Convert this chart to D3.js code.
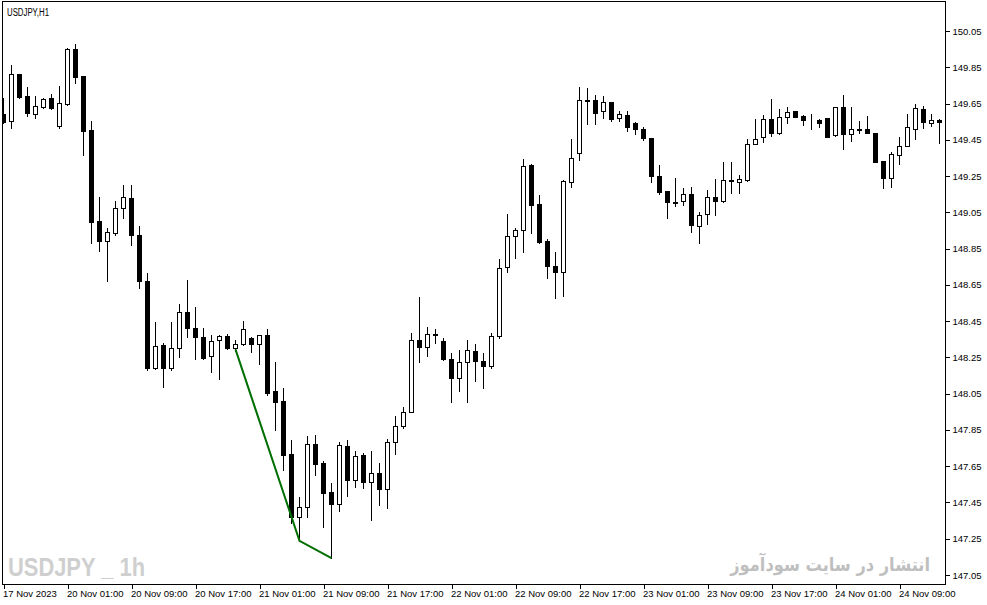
<!DOCTYPE html>
<html><head><meta charset="utf-8">
<script src="https://cdn.jsdelivr.net/npm/d3@7"></script>
<style>
html,body{margin:0;padding:0;background:#fff;}
svg{display:block;}
text{font-family:"Liberation Sans",Arial,sans-serif;}
</style></head><body>
<svg id="chart" width="987" height="605"></svg>
<script>
const opens = [149.592,149.553,149.813,149.692,149.592,149.631,149.681,149.526,149.647,149.950,
149.802,149.504,149.002,148.891,148.936,149.074,149.129,148.925,148.671,148.191,
148.319,148.191,148.302,148.500,148.412,148.363,148.258,148.346,148.368,148.302,
148.324,148.357,148.324,148.374,148.065,148.010,147.717,147.370,147.425,147.772,
147.668,147.507,147.442,147.761,147.574,147.712,147.563,147.613,147.524,147.783,
147.871,147.949,148.346,148.308,148.379,148.341,148.242,148.136,148.225,148.286,
148.230,148.203,148.368,148.748,148.919,148.952,149.311,149.096,148.891,148.754,
148.721,149.217,149.377,149.670,149.670,149.609,149.658,149.570,149.587,149.542,
149.509,149.460,149.250,149.168,149.107,149.113,149.151,148.974,149.041,149.135,
149.113,149.228,149.217,149.228,149.427,149.465,149.564,149.487,149.576,149.609,
149.581,149.556,149.559,149.570,149.476,149.631,149.482,149.509,149.509,149.487,
149.333,149.239,149.366,149.416,149.509,149.620,149.542,149.559];
const highs = [149.681,149.862,149.813,149.741,149.692,149.681,149.703,149.747,149.956,149.978,
149.802,149.553,149.135,148.963,149.113,149.201,149.201,148.974,148.716,148.445,
148.330,148.445,148.544,148.677,148.528,148.412,148.374,148.374,148.379,148.346,
148.451,148.363,148.374,148.407,148.225,148.081,147.794,147.480,147.816,147.822,
147.679,147.557,147.783,147.794,147.734,147.723,147.734,147.668,147.800,147.927,
147.976,148.385,148.583,148.418,148.407,148.357,148.275,148.291,148.346,148.324,
148.275,148.385,148.793,149.041,148.963,149.344,149.317,149.146,148.903,148.831,
149.228,149.454,149.741,149.736,149.697,149.692,149.658,149.609,149.609,149.548,
149.521,149.460,149.311,149.168,149.239,149.184,149.190,149.052,149.173,149.234,
149.328,149.328,149.256,149.454,149.564,149.587,149.675,149.620,149.631,149.609,
149.587,149.592,149.564,149.570,149.631,149.697,149.631,149.553,149.581,149.487,
149.333,149.383,149.465,149.592,149.647,149.637,149.592,149.564];
const lows = [149.542,149.515,149.681,149.581,149.570,149.625,149.620,149.515,149.642,149.763,
149.366,148.880,148.836,148.671,148.925,149.019,148.869,148.633,148.180,148.186,
148.087,148.180,148.253,148.363,148.242,148.242,148.169,148.131,148.297,148.286,
148.319,148.280,148.214,148.043,147.849,147.629,147.337,147.238,147.370,147.601,
147.314,147.143,147.403,147.485,147.535,147.530,147.353,147.436,147.419,147.717,
147.860,147.949,148.225,148.258,148.330,148.236,148.004,148.065,148.004,148.120,
148.081,148.191,148.357,148.721,148.798,148.831,148.936,148.880,148.688,148.578,
148.589,149.190,149.339,149.537,149.537,149.570,149.553,149.553,149.498,149.482,
149.449,149.217,149.151,149.019,149.085,149.090,148.941,148.880,148.986,149.035,
149.107,149.157,149.157,149.223,149.427,149.438,149.471,149.482,149.542,149.576,
149.531,149.509,149.521,149.465,149.471,149.399,149.443,149.487,149.487,149.328,
149.184,149.190,149.317,149.416,149.454,149.515,149.526,149.432];
const closes = [149.548,149.813,149.686,149.597,149.637,149.675,149.625,149.653,149.950,149.796,
149.498,148.997,148.891,148.941,149.074,149.135,148.925,148.671,148.191,148.313,
148.191,148.302,148.500,148.412,148.363,148.247,148.341,148.368,148.302,148.324,
148.407,148.324,148.374,148.054,148.004,147.712,147.370,147.425,147.772,147.662,
147.502,147.442,147.767,147.574,147.706,147.563,147.613,147.524,147.783,147.871,
147.949,148.346,148.308,148.379,148.374,148.242,148.136,148.225,148.291,148.230,
148.203,148.368,148.743,148.919,148.952,149.306,149.090,148.886,148.754,148.721,
149.223,149.350,149.670,149.664,149.597,149.658,149.564,149.592,149.521,149.509,
149.460,149.250,149.162,149.107,149.104,149.151,148.980,149.035,149.135,149.113,
149.228,149.223,149.234,149.427,149.454,149.564,149.487,149.576,149.603,149.576,
149.559,149.553,149.542,149.465,149.631,149.482,149.509,149.506,149.487,149.328,
149.239,149.372,149.416,149.521,149.625,149.548,149.559,149.548];
const timeTickIndex = [0,8,16,24,32,40,48,56,64,72,80,88,96,104,112];
const timeLabels = ["17 Nov 2023","20 Nov 01:00","20 Nov 09:00","20 Nov 17:00","21 Nov 01:00",
"21 Nov 09:00","21 Nov 17:00","22 Nov 01:00","22 Nov 09:00","22 Nov 17:00","23 Nov 01:00",
"23 Nov 09:00","23 Nov 17:00","24 Nov 01:00","24 Nov 09:00"];
const priceTicks = [147.05,147.25,147.45,147.65,147.85,148.05,148.25,148.45,148.65,148.85,149.05,149.25,149.45,149.65,149.85,150.05];
const lineIndex = [29,37,41];
const linePrice = [148.294,147.238,147.143];

const W = 987, H = 605;
const plotLeft = 2, plotRight = 945, plotTop = 1, plotBottom = 584;
const svg = d3.select("#chart");
const x = d3.scaleLinear().domain([0, opens.length - 1]).range([3.5, 3.5 + 8 * (opens.length - 1)]);
const y = d3.scaleLinear().domain([147.05, 150.05]).range([575, 31]);
const py = v => Math.round(y(v)) + 0.5;

svg.append("rect").attr("width", W).attr("height", H).attr("fill", "#fff");

// frame
svg.append("rect")
  .attr("x", plotLeft + 0.5).attr("y", plotTop + 0.5)
  .attr("width", plotRight - plotLeft).attr("height", plotBottom - plotTop)
  .attr("fill", "none").attr("stroke", "#000").attr("stroke-width", 1);

svg.append("clipPath").attr("id", "plotclip").append("rect")
  .attr("x", plotLeft + 1).attr("y", plotTop + 1)
  .attr("width", plotRight - plotLeft - 1).attr("height", plotBottom - plotTop - 1);

// watermarks
svg.append("text").attr("x", 8).attr("y", 576)
  .attr("font-size", 26).attr("font-weight", "bold").attr("fill", "#cfcfcf")
  .attr("textLength", 137).attr("lengthAdjust", "spacingAndGlyphs")
  .text("USDJPY _ 1h");
svg.append("text").attr("transform", "translate(930,571) scale(0.855,1)")
  .attr("font-size", 19).attr("font-weight", "bold").attr("fill", "#bfbfbf")
  .attr("text-anchor", "end")
  .style("font-family", "'DejaVu Sans', sans-serif")
  .text("انتشار در سایت سودآموز");

svg.append("text").attr("x", 7).attr("y", 16)
  .attr("font-size", 10).attr("fill", "#000")
  .attr("textLength", 42).attr("lengthAdjust", "spacingAndGlyphs")
  .text("USDJPY,H1");

const g = svg.append("g").attr("clip-path", "url(#plotclip)");
const idx = d3.range(opens.length);

g.selectAll("line.wick").data(idx).join("line")
  .attr("class", "wick")
  .attr("x1", i => x(i)).attr("x2", i => x(i))
  .attr("y1", i => Math.round(y(highs[i]))).attr("y2", i => Math.round(y(lows[i])) + 1)
  .attr("stroke", "#000").attr("stroke-width", 1).attr("shape-rendering", "crispEdges");

g.selectAll("rect.body").data(idx).join("rect")
  .attr("class", "body")
  .attr("x", i => x(i) - 2).attr("width", 4)
  .attr("y", i => Math.min(py(opens[i]), py(closes[i])))
  .attr("height", i => Math.abs(py(opens[i]) - py(closes[i])))
  .attr("fill", i => closes[i] >= opens[i] ? "#fff" : "#000")
  .attr("stroke", "#000").attr("stroke-width", 1).attr("shape-rendering", "crispEdges");

const lineGen = d3.line().x(d => x(d[0])).y(d => y(d[1]));
g.append("path")
  .datum(lineIndex.map((k, j) => [k, linePrice[j]]))
  .attr("d", lineGen).attr("fill", "none")
  .attr("stroke", "#006f00").attr("stroke-width", 2);

// y axis
const yAxis = d3.axisRight(y).tickValues(priceTicks).tickFormat(d3.format(".2f")).tickSize(4).tickPadding(3);
const ya = svg.append("g").attr("transform", `translate(${plotRight + 0.5},0)`).call(yAxis);
ya.select(".domain").remove();
ya.selectAll("line").attr("stroke", "#000").attr("shape-rendering", "crispEdges");
ya.selectAll("text").attr("font-size", 9.5).attr("fill", "#000").style("font-family", "'Liberation Sans',Arial,sans-serif");

// x axis
const xAxis = d3.axisBottom(x).tickValues(timeTickIndex)
  .tickFormat((d, j) => timeLabels[j]).tickSize(4).tickPadding(3);
const xa = svg.append("g").attr("transform", `translate(0,${plotBottom + 0.5})`).call(xAxis);
xa.select(".domain").remove();
xa.selectAll("line").attr("stroke", "#000").attr("shape-rendering", "crispEdges");
xa.selectAll("text").attr("font-size", 9.5).attr("fill", "#000")
  .attr("text-anchor", "start").attr("dx", -1).attr("y", 6).attr("dy", "0.71em")
  .style("font-family", "'Liberation Sans',Arial,sans-serif");
</script>
</body></html>
